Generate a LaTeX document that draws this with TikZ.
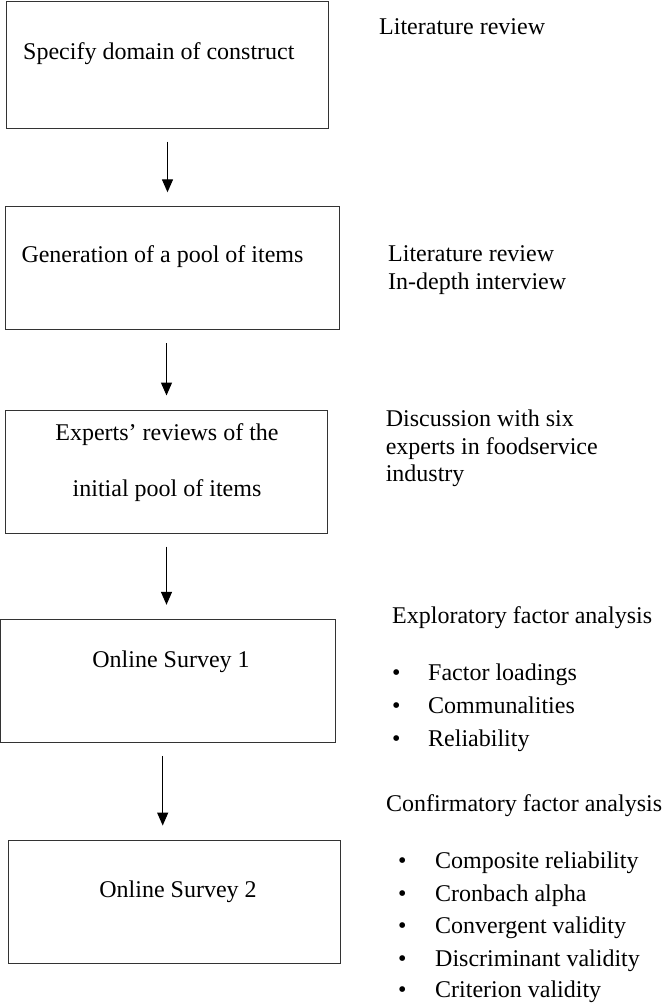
\documentclass[tikz,border=0pt]{standalone}
\usepackage{fontspec}
\setmainfont{Liberation Serif}
\usepackage{tikz}
\usetikzlibrary{arrows.meta,positioning}

\begin{document}
\begin{tikzpicture}[x=1pt,y=-1pt,
  box/.style={draw=black!80, line width=1pt, rectangle, inner sep=0pt},
  flow/.style={-{Triangle[length=13pt,width=11pt]}, line width=1.3pt, shorten <=13pt, shorten >=14pt},
  txt/.style={inner sep=0pt, font=\fontsize{24}{28}\selectfont}]
\useasboundingbox (0,0) rectangle (666,1004);

%Shape: Rectangle [id:box1]
\node [box, minimum width=322pt, minimum height=127pt] (box1) at (167.5,64.5) {};
%Shape: Rectangle [id:box2]
\node [box, minimum width=334pt, minimum height=123pt] (box2) at (172.5,268.3) {};
%Shape: Rectangle [id:box3]
\node [box, minimum width=322pt, minimum height=123pt] (box3) at (166.5,471.5) {};
%Shape: Rectangle [id:box4]
\node [box, minimum width=334.5pt, minimum height=123pt] (box4) at (168.2,680.8) {};
%Shape: Rectangle [id:box5]
\node [box, minimum width=331.7pt, minimum height=123.3pt] (box5) at (174.2,901.7) {};

%Straight Lines [id:flow1]
\draw [flow] (box1.south) -- (box1.south |- box2.north);
%Straight Lines [id:flow2]
\draw [flow] (box2.south -| box3.north) -- (box3.north);
%Straight Lines [id:flow3]
\draw [flow] (box3.south) -- (box3.south |- box4.north);
%Straight Lines [id:flow4]
\draw [flow] ([xshift=-5.5pt]box4.south) -- ([xshift=-5.5pt]box4.south |- box5.north);

% Text Node
\node [txt, anchor=base west] (specify) at (23,59.3) {Specify domain of construct};
% Text Node
\node [txt, anchor=base west] (generation) at (21.3,262) {Generation of a pool of items};
% Text Node
\node [txt, anchor=base] (experts) at (167,440) {Experts’ reviews of the};
% Text Node
\node [txt, anchor=base] (initial) at (167,496.7) {initial pool of items};
% Text Node
\node [txt, anchor=base] (survey1) at (171,667) {Online Survey 1};
% Text Node
\node [txt, anchor=base] (survey2) at (178,897.7) {Online Survey 2};

% Text Node
\node [txt, anchor=base west] (litrev1) at (379,34.3) {Literature review};
% Text Node
\node [txt, anchor=base west] (litrev2) at (388,261) {Literature review};
% Text Node
\node [txt, anchor=base west] (indepth) at (388,289) {In-depth interview};
% Text Node
\node [txt, anchor=base west] (discuss1) at (385.6,426) {Discussion with six};
% Text Node
\node [txt, anchor=base west] (discuss2) at (385.6,454) {experts in foodservice};
% Text Node
\node [txt, anchor=base west] (discuss3) at (385.6,481.7) {industry};

% Text Node
\node [txt, anchor=base west] (efa) at (392,623.3) {Exploratory factor analysis};
% Text Node
\node [txt, anchor=base west] (efab1) at (392,680) {•};
\node [txt, anchor=base west] (efa1) at (428,680) {Factor loadings};
% Text Node
\node [txt, anchor=base west] (efab2) at (392,713) {•};
\node [txt, anchor=base west] (efa2) at (428,713) {Communalities};
% Text Node
\node [txt, anchor=base west] (efab3) at (392,746) {•};
\node [txt, anchor=base west] (efa3) at (428,746) {Reliability};

% Text Node
\node [txt, anchor=base west] (cfa) at (386,811) {Confirmatory factor analysis};
% Text Node
\node [txt, anchor=base west] (cfab1) at (397.8,868) {•};
\node [txt, anchor=base west] (cfa1) at (435,868) {Composite reliability};
% Text Node
\node [txt, anchor=base west] (cfab2) at (397.8,901) {•};
\node [txt, anchor=base west] (cfa2) at (435,901) {Cronbach alpha};
% Text Node
\node [txt, anchor=base west] (cfab3) at (397.8,933) {•};
\node [txt, anchor=base west] (cfa3) at (435,933) {Convergent validity};
% Text Node
\node [txt, anchor=base west] (cfab4) at (397.8,966) {•};
\node [txt, anchor=base west] (cfa4) at (435,966) {Discriminant validity};
% Text Node
\node [txt, anchor=base west] (cfab5) at (397.8,997) {•};
\node [txt, anchor=base west] (cfa5) at (435,997) {Criterion validity};
\end{tikzpicture}
\end{document}
